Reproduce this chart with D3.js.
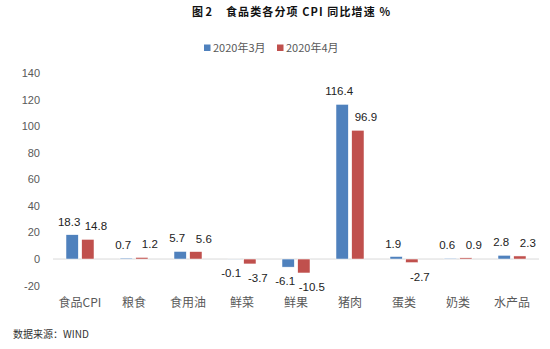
<!DOCTYPE html>
<html>
<head>
<meta charset="utf-8">
<script src="https://cdn.jsdelivr.net/npm/d3@7"></script>
<style>
  html, body { margin: 0; padding: 0; background: #fff; }
  svg { display: block; }
</style>
</head>
<body>
<div id="chart"></div>
<script>
// Food CPI components, year-on-year growth (%)
const categories = ["食品CPI", "粮食", "食用油", "鲜菜", "鲜果", "猪肉", "蛋类", "奶类", "水产品"];
const seriesNames = ["2020年3月", "2020年4月"];
const march = [18.3, 0.7, 5.7, -0.1, -6.1, 116.4, 1.9, 0.6, 2.8];
const april = [14.8, 1.2, 5.6, -3.7, -10.5, 96.9, -2.7, 0.9, 2.3];
const yTicks = [-20, 0, 20, 40, 60, 80, 100, 120, 140];
const colors = ["#4F81BD", "#C0504D"];

// plain hyphen as minus sign
const locale = d3.formatLocale({ decimal: ".", thousands: ",", grouping: [3], currency: ["", ""], minus: "-" });
const fmt1 = locale.format(".1f");
const fmt0 = locale.format("d");

const W = 550, H = 349;
const svg = d3.select("#chart").append("svg").attr("width", W).attr("height", H);

const x0 = d3.scaleBand().domain(categories).range([53, 539]).padding(0);
const x1 = d3.scaleBand().domain(seriesNames).range([-14, 14]).paddingInner(0.22);
const y = d3.scaleLinear().domain([-20, 140]).range([285.6, 73]);

// title: figure number and caption, spaced out
const titleStyle = sel => sel
  .attr("font-family", "'Noto Sans CJK SC', sans-serif")
  .attr("font-weight", "bold")
  .attr("font-size", 11)
  .attr("fill", "#111")
  .attr("lengthAdjust", "spacing");
svg.append("text").attr("x", 192).attr("y", 16).attr("textLength", 20)
  .call(titleStyle).text("图 2");
svg.append("text").attr("x", 226).attr("y", 16).attr("textLength", 164)
  .call(titleStyle).text("食品类各分项 CPI 同比增速 %");

// legend
const legend = svg.append("g").attr("font-family", "'Noto Sans CJK SC', sans-serif").attr("font-size", 11);
const legendX = [204, 277];
seriesNames.forEach((s, i) => {
  legend.append("rect").attr("x", legendX[i]).attr("y", 44.5).attr("width", 6.5).attr("height", 6.5).attr("fill", colors[i]);
  legend.append("text").attr("x", legendX[i] + 9).attr("y", 51.5).attr("fill", "#595959").text(s);
});

// y axis (labels only)
const yAxis = d3.axisLeft(y).tickValues(yTicks).tickFormat(fmt0).tickSize(0).tickPadding(0);
const gy = svg.append("g").attr("transform", "translate(40,0)").call(yAxis);
gy.select(".domain").remove();
gy.selectAll("text")
  .attr("font-family", "'Liberation Sans', Arial, sans-serif")
  .attr("font-size", 11)
  .attr("fill", "#595959");

// zero baseline
svg.append("line")
  .attr("x1", 53).attr("x2", 539)
  .attr("y1", y(0)).attr("y2", y(0))
  .attr("stroke", "#D9D9D9").attr("stroke-width", 1);

// bars
const rows = categories.map((c, i) => ({ cat: c, vals: [march[i], april[i]] }));
const groups = svg.selectAll("g.cat").data(rows).join("g")
  .attr("class", "cat")
  .attr("transform", d => `translate(${x0(d.cat) + x0.bandwidth() / 2},0)`);

groups.selectAll("rect").data(d => d.vals.map((v, i) => ({ s: seriesNames[i], v, i }))).join("rect")
  .attr("x", d => x1(d.s))
  .attr("width", x1.bandwidth())
  .attr("y", d => y(Math.max(0, d.v)))
  .attr("height", d => Math.abs(y(d.v) - y(0)))
  .attr("fill", d => colors[d.i])
  .attr("stroke", "#fff").attr("stroke-width", 0.5);

// value labels
const labelDx = [-3, 8];
groups.selectAll("text.val").data(d => d.vals.map((v, i) => ({ s: seriesNames[i], v, i }))).join("text")
  .attr("class", "val")
  .attr("x", d => x1(d.s) + x1.bandwidth() / 2 + labelDx[d.i])
  .attr("y", d => d.v >= 0 ? y(d.v) - 13 : y(d.v) + 14)
  .attr("dy", "0.35em")
  .attr("text-anchor", "middle")
  .attr("font-family", "'Liberation Sans', Arial, sans-serif")
  .attr("font-size", 11.5)
  .attr("fill", "#222")
  .text(d => fmt1(d.v));

// x axis category labels
const xAxis = d3.axisBottom(x0).tickSize(0).tickPadding(0);
const gx = svg.append("g").attr("transform", "translate(0,298)").call(xAxis);
gx.select(".domain").remove();
gx.selectAll("text")
  .attr("font-family", "'Noto Sans CJK SC', sans-serif")
  .attr("font-size", 12)
  .attr("fill", "#595959");

// source note
svg.append("text")
  .attr("x", 13).attr("y", 337.5)
  .attr("font-family", "'Noto Sans CJK SC', sans-serif")
  .attr("font-size", 10)
  .attr("fill", "#333")
  .text("数据来源：WIND");
</script>
</body>
</html>
